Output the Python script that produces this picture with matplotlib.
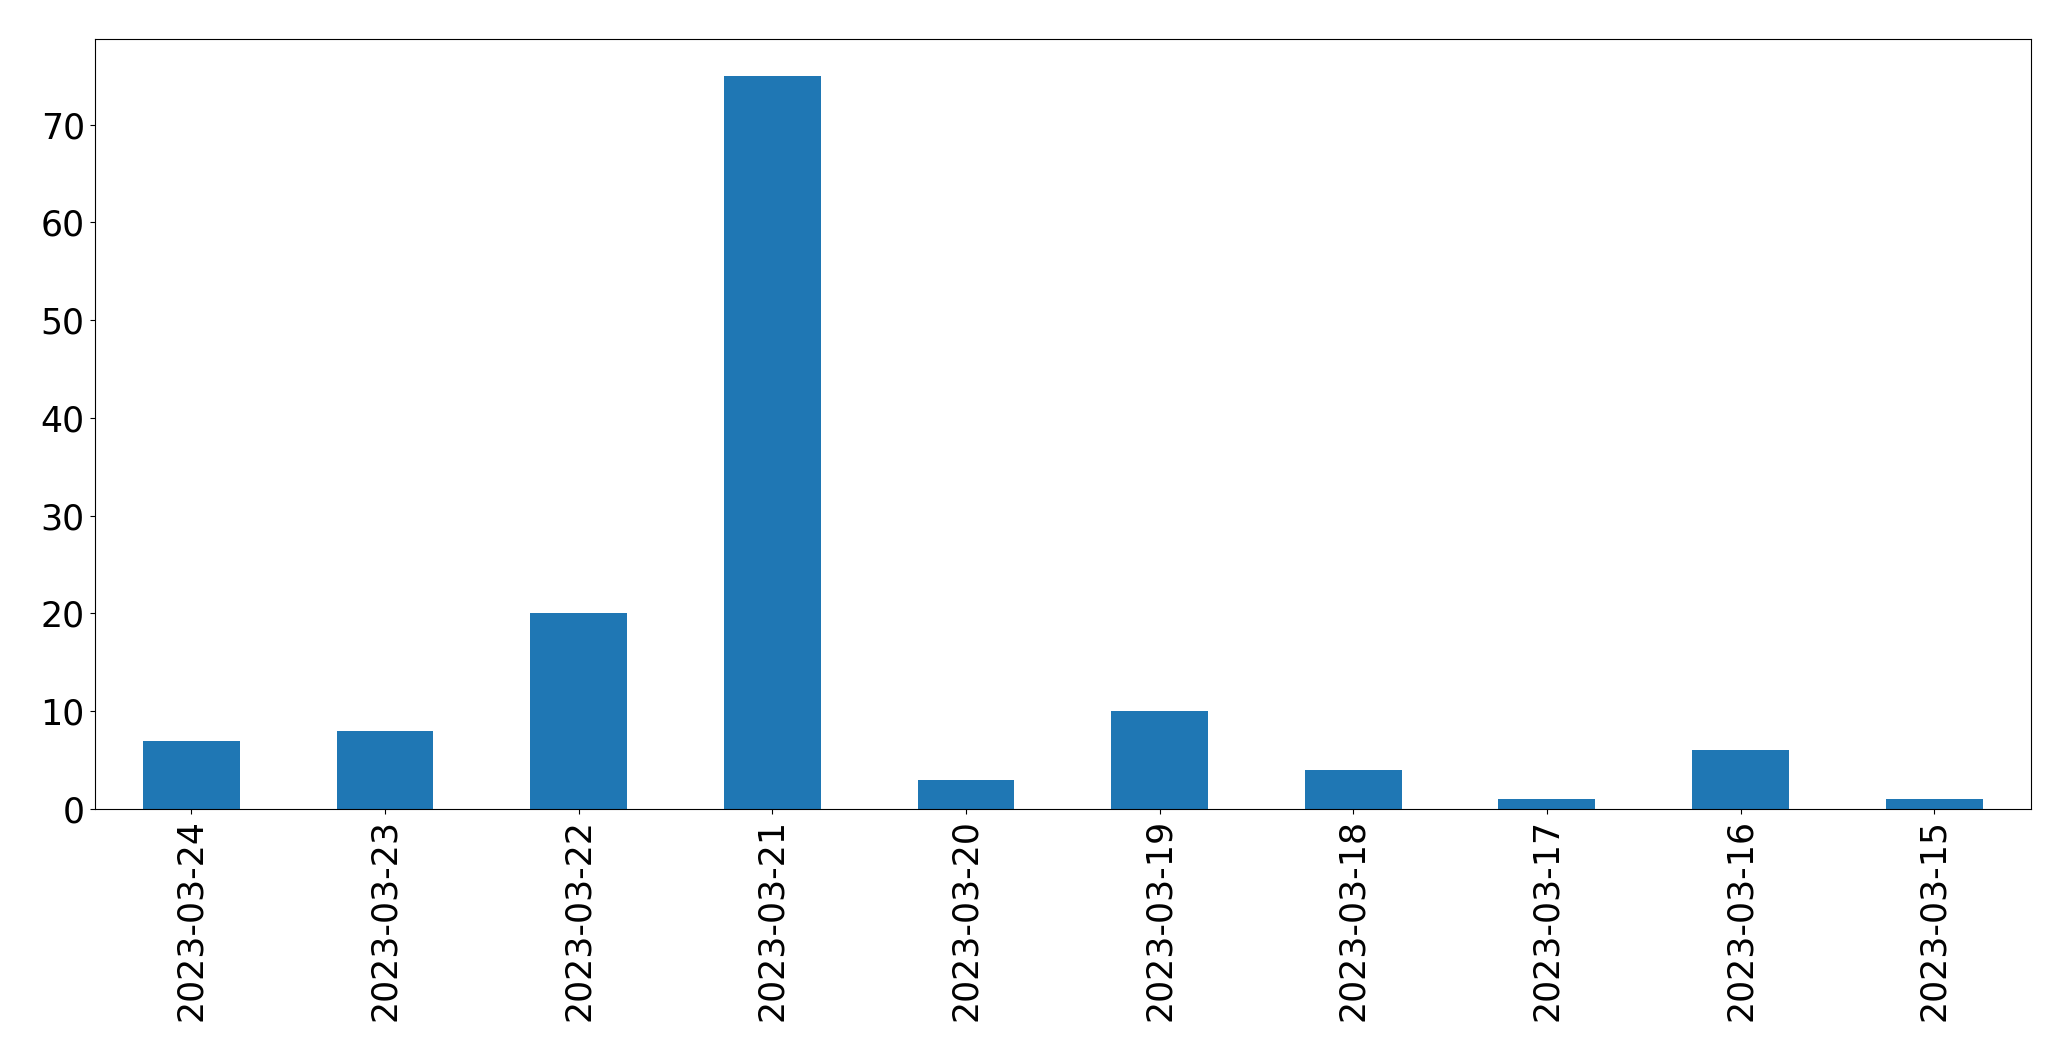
import matplotlib
matplotlib.use("Agg")
import matplotlib.pyplot as plt
import numpy as np

dates = ["2023-03-24", "2023-03-23", "2023-03-22", "2023-03-21", "2023-03-20",
         "2023-03-19", "2023-03-18", "2023-03-17", "2023-03-16", "2023-03-15"]
counts = [7, 8, 20, 75, 3, 10, 4, 1, 6, 1]

fig = plt.figure(figsize=(20.71, 10.61), dpi=100)
ax = fig.add_axes([94.5/2071, 1 - 809/1061, (2031 - 94.5)/2071, (809 - 39)/1061])
x = np.arange(len(dates))
ax.bar(x, counts, width=0.5, color="#1f77b4")
ax.set_xlim(-0.5, len(dates) - 0.5)
ax.set_xticks(x)
ax.set_xticklabels(dates, rotation=90)
ax.tick_params(axis="both", labelsize=25)
fig.savefig("out.png", dpi=100)
